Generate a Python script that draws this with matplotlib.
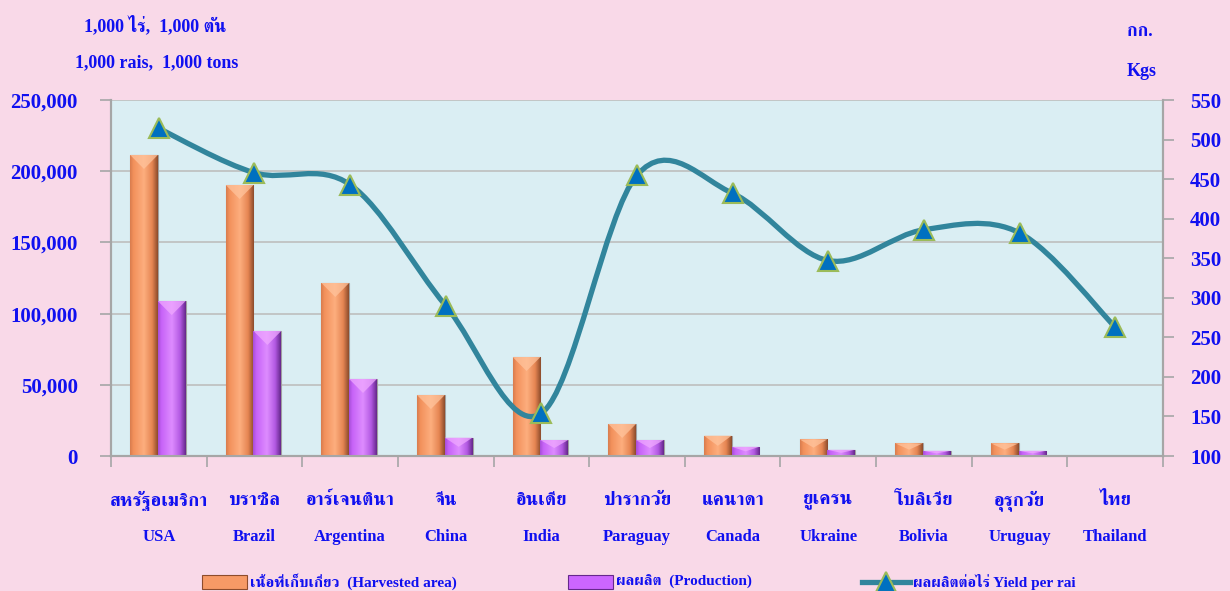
import numpy as np
import matplotlib
matplotlib.use("Agg")
import matplotlib.pyplot as plt
import matplotlib.font_manager as fm
from matplotlib.ft2font import FT2Font
from matplotlib.colors import LinearSegmentedColormap
from matplotlib.patches import Rectangle, Polygon
from matplotlib.lines import Line2D
from matplotlib.path import Path
from matplotlib.patches import PathPatch

# ---------------- data ----------------
thai_names = ["สหรัฐอเมริกา", "บราซิล", "อาร์เจนตินา", "จีน", "อินเดีย", "ปารากวัย",
              "แคนาดา", "ยูเครน", "โบลิเวีย", "อุรุกวัย", "ไทย"]
eng_names = ["USA", "Brazil", "Argentina", "China", "India", "Paraguay",
             "Canada", "Ukraine", "Bolivia", "Uruguay", "Thailand"]
harvested = [211400, 190300, 121500, 42800, 69500, 22500, 14300, 11700, 8900, 8900, 220]
production = [108800, 87800, 54100, 12900, 11200, 11200, 6500, 4400, 3700, 3700, 60]
yield_per_rai = [514, 458, 443, 290, 154, 455, 432, 347, 386, 382, 263]
left_ticks = [0, 50000, 100000, 150000, 200000, 250000]
right_ticks = [100, 150, 200, 250, 300, 350, 400, 450, 500, 550]

# ---------------- fonts ----------------
def find_thai_fonts():
    found = []
    seen = set()
    for f in fm.fontManager.ttflist:
        if f.name in seen:
            continue
        try:
            cm = FT2Font(f.fname).get_charmap()
            if 0x0E01 in cm:
                found.append(f.name)
                seen.add(f.name)
        except Exception:
            pass
    found.sort(key=lambda n: (0 if "Serif" in n else 1, n))
    return found

thai_fonts = find_thai_fonts()
FAM = ["Liberation Serif"] + thai_fonts + ["DejaVu Sans"]
plt.rcParams["font.family"] = FAM

BLUE = "#1010F0"
GRID = "#BEBEBE"
AXC = "#A6A6A6"

W, H = 1230, 591
fig = plt.figure(figsize=(W / 100, H / 100), dpi=100)
fig.patch.set_facecolor("#F9D9E8")

ax = fig.add_axes([111 / W, 1 - 456 / H, (1163 - 111) / W, (456 - 100) / H])
ax.set_facecolor("#DAEEF3")
ax2 = ax.twinx()

n = len(eng_names)
x = np.arange(n)
bw = 0.29

orange_cmap = LinearSegmentedColormap.from_list(
    "o", [(0, "#D97C4E"), (0.12, "#F3915C"), (0.5, "#FDAE7E"), (0.8, "#E58552"), (1, "#8E4C2C")])
purple_cmap = LinearSegmentedColormap.from_list(
    "p", [(0, "#A84FD8"), (0.12, "#C763F8"), (0.5, "#DE8CFF"), (0.8, "#B259E2"), (1, "#66288C")])
grad = np.linspace(0, 1, 64).reshape(1, -1)

b1 = ax.bar(x - bw / 2 - 0.01, harvested, width=bw, color="#F79A66", edgecolor="#A0A0A0", linewidth=0.8, zorder=3)
b2 = ax.bar(x + bw / 2 - 0.01, production, width=bw, color="#CC66FF", edgecolor="#A0A0A0", linewidth=0.8, zorder=3)
cap_depth = 250000 * 14 / 356.0
for bars, cmap, capc in ((b1, orange_cmap, "#FFC39C"), (b2, purple_cmap, "#EFA8FF")):
    for p in bars:
        x0, y0 = p.get_x(), p.get_y()
        w, h = p.get_width(), p.get_height()
        if h <= 0:
            continue
        im = ax.imshow(grad, cmap=cmap, extent=[x0, x0 + w, y0, y0 + h], aspect="auto",
                       zorder=3.5, interpolation="bilinear")
        im.set_clip_path(p)
        d = min(cap_depth, h / 2)
        ax.add_patch(Polygon([(x0, y0 + h), (x0 + w, y0 + h), (x0 + w / 2, y0 + h - d)],
                             closed=True, facecolor=capc, edgecolor="none", alpha=0.75, zorder=3.6))

ax.set_xlim(-0.5, n - 0.5)
ax.set_ylim(0, 250000)
ax.set_yticks(left_ticks)
ax.set_yticklabels([f"{v:,}" for v in left_ticks])
ax.yaxis.grid(True, color=GRID, linewidth=1.2, zorder=0)
ax.set_axisbelow(True)
ax.set_xticks(x)
ax.set_xticklabels([])
ax.tick_params(axis="x", which="major", length=0)
ax.set_xticks(np.arange(-0.5, n, 1.0), minor=True)
ax.tick_params(axis="x", which="minor", length=8, color=AXC, width=1.2, direction="out")
ax.tick_params(axis="y", length=8, color=AXC, width=1.2, direction="out", pad=16,
               labelsize=15, labelcolor=BLUE)
for lab in ax.get_yticklabels():
    lab.set_fontweight("bold")

# smoothed yield line (Catmull-Rom style Bezier like Excel)
pts = np.column_stack([x.astype(float), np.array(yield_per_rai, float)])
verts = [tuple(pts[0])]
codes = [Path.MOVETO]
for i in range(n - 1):
    p0 = pts[i - 1] if i > 0 else pts[i]
    p1 = pts[i]
    p2 = pts[i + 1]
    p3 = pts[i + 2] if i + 2 < n else pts[i + 1]
    c1 = p1 + (p2 - p0) / 6.0
    c2 = p2 - (p3 - p1) / 6.0
    verts += [tuple(c1), tuple(c2), tuple(p2)]
    codes += [Path.CURVE4] * 3
ax2.add_patch(PathPatch(Path(verts, codes), facecolor="none", edgecolor="#31859C",
                        linewidth=3.8, capstyle="round", joinstyle="round", zorder=4))
ax2.plot(x, yield_per_rai, linestyle="none", marker="^", markersize=14,
         markerfacecolor="#0070C0", markeredgecolor="#9BBB59", markeredgewidth=1.5, zorder=5)
ax2.set_ylim(100, 550)
ax2.set_yticks(right_ticks)
ax2.tick_params(axis="y", length=8, color=AXC, width=1.2, direction="out", pad=11.5,
                labelsize=15, labelcolor=BLUE)
for lab in ax2.get_yticklabels():
    lab.set_fontweight("bold")

for a in (ax, ax2):
    a.spines["top"].set_visible(False)
    for s in ("left", "right", "bottom"):
        a.spines[s].set_color(AXC)
        a.spines[s].set_linewidth(1.5)

# category labels
for i in range(n):
    ax.text(i, -0.125, thai_names[i], transform=ax.get_xaxis_transform(), ha="center", va="center",
            fontsize=13.5, color=BLUE, fontweight="bold")
    ax.text(i, -0.228, eng_names[i], transform=ax.get_xaxis_transform(), ha="center", va="center",
            fontsize=12, color=BLUE, fontweight="bold")

# unit labels
fig.text(155 / W, 1 - 25 / H, "1,000 ไร่,  1,000 ตัน", ha="center", va="center",
         fontsize=13, color=BLUE, fontweight="bold")
fig.text(157 / W, 1 - 63 / H, "1,000 rais,  1,000 tons", ha="center", va="center",
         fontsize=13, color=BLUE, fontweight="bold")
fig.text(1140 / W, 1 - 32 / H, "กก.", ha="center", va="center",
         fontsize=13, color=BLUE, fontweight="bold")
fig.text(1142 / W, 1 - 71 / H, "Kgs", ha="center", va="center",
         fontsize=13, color=BLUE, fontweight="bold")

# legend (manual)
ly = 1 - 582 / H
fig.add_artist(Rectangle((202 / W, ly - 7 / H), 45 / W, 14 / H, transform=fig.transFigure,
                         facecolor="#F79A66", edgecolor="#8E4C2C", linewidth=0.8))
fig.text(250 / W, ly, "เนื้อที่เก็บเกี่ยว  (Harvested area)", ha="left", va="center",
         fontsize=11, color=BLUE, fontweight="bold")
fig.add_artist(Rectangle((568 / W, ly - 7 / H), 45 / W, 14 / H, transform=fig.transFigure,
                         facecolor="#CC66FF", edgecolor="#66288C", linewidth=0.8))
fig.text(616 / W, ly, "ผลผลิต  (Production)", ha="left", va="center",
         fontsize=11, color=BLUE, fontweight="bold")
fig.add_artist(Line2D([862 / W, 910 / W], [ly, ly], transform=fig.transFigure,
                      color="#31859C", linewidth=3.8))
fig.add_artist(Line2D([886 / W], [ly], transform=fig.transFigure, marker="^", markersize=14,
                      markerfacecolor="#0070C0", markeredgecolor="#9BBB59", markeredgewidth=1.5,
                      linestyle="none"))
fig.text(913 / W, ly, "ผลผลิตต่อไร่ Yield per rai", ha="left", va="center",
         fontsize=11, color=BLUE, fontweight="bold")

fig.savefig("out.png", dpi=100, facecolor=fig.get_facecolor())
